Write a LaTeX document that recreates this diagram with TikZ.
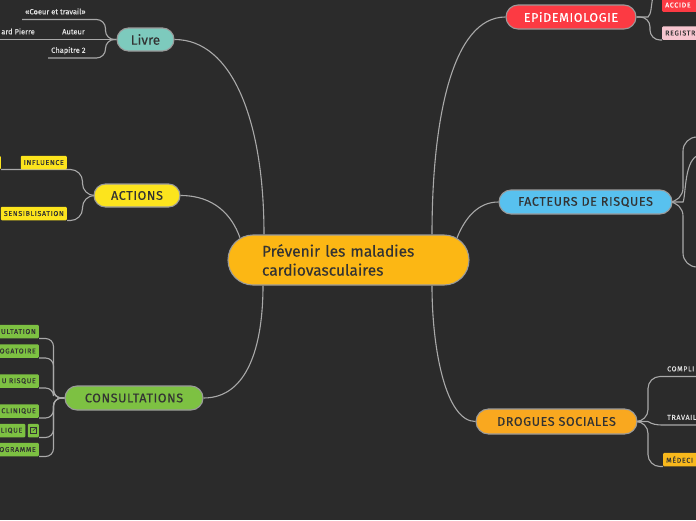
\documentclass[tikz,border=0pt]{standalone}
\usepackage{fontspec}
\setmainfont{Fira Sans}
\newfontfamily\capsf[LetterSpace=5,FakeBold=0.35]{Fira Sans}
\newfontfamily\cenf[FakeBold=0.3]{Fira Sans}
\newfontfamily\tinyf[LetterSpace=10,FakeBold=0.3]{Fira Sans}
\newfontfamily\lblf[FakeBold=0.2]{Fira Sans}
\usetikzlibrary{calc}
\definecolor{bg}{HTML}{2B2B2B}
\definecolor{lineg}{HTML}{A9A9A9}
\definecolor{bordg}{HTML}{9A9A9A}
\definecolor{dark}{HTML}{333333}
\definecolor{lightt}{HTML}{E2E2E2}
\definecolor{cCenter}{HTML}{FCB714}
\definecolor{cLivre}{HTML}{7DCABD}
\definecolor{cAct}{HTML}{FCE41D}
\definecolor{cCons}{HTML}{7DC142}
\definecolor{cEpi}{HTML}{FC3A43}
\definecolor{cFact}{HTML}{58C1EF}
\definecolor{cDrog}{HTML}{F9A81F}
\definecolor{cPink}{HTML}{F7C5CF}
\definecolor{cMed}{HTML}{F8B81C}
\pgfdeclarelayer{back}
\pgfsetlayers{back,main}
\tikzset{
  topic/.style={draw=bordg, line width=1.1pt, text=dark, inner sep=0pt,
    font=\capsf\fontsize{12.5}{14}\selectfont},
  conn/.style={draw=lineg, line width=1.1pt},
  lbl/.style={text=lightt, inner xsep=3pt, inner ysep=5pt, text depth=0pt,
    font=\lblf\fontsize{7.5}{8}\selectfont},
  clbl/.style={text=lightt, inner xsep=3pt, inner ysep=5pt, text depth=0pt,
    font=\tinyf\fontsize{7}{8}\selectfont},
  cbox/.style={text=dark, inner xsep=3pt, inner ysep=0pt, minimum height=13.5pt,
    rounded corners=1pt, font=\tinyf\fontsize{7}{8}\selectfont},
  ebox/.style={cbox, text width=34pt, align=left}
}
\begin{document}
\begin{tikzpicture}[x=1pt,y=-1pt]
\begin{pgfonlayer}{back}
\fill[bg] (0,0) rectangle (696,520);
\end{pgfonlayer}
\useasboundingbox (0,0) rectangle (696,520);

% central node
\node[topic, fill=cCenter, minimum width=241pt, minimum height=50pt, rounded corners=25pt,
  text width=173pt, inner xsep=34pt, align=left, font=\cenf\fontsize{15.5}{19}\selectfont]
  (c) at (348.5,260) {Prévenir les maladies\\cardiovasculaires};

% main topics
\node[topic, fill=cLivre, minimum width=57pt, minimum height=23pt, rounded corners=11.5pt,
  font=\cenf\fontsize{13.5}{14}\selectfont] (livre) at (145.5,39.5) {Livre};
\node[topic, fill=cAct, minimum width=86pt, minimum height=23pt, rounded corners=11.5pt]
  (act) at (137,195.5) {ACTIONS};
\node[topic, fill=cCons, minimum width=138pt, minimum height=24pt, rounded corners=12pt]
  (cons) at (134,398) {CONSULTATIONS};
\node[topic, fill=cEpi, text=white, minimum width=130pt, minimum height=24pt, rounded corners=12pt]
  (epi) at (571,17) {EPiDEMIOLOGIE};
\node[topic, fill=cFact, minimum width=173pt, minimum height=24pt, rounded corners=12pt]
  (fact) at (585.5,202) {FACTEURS DE RISQUES};
\node[topic, fill=cDrog, minimum width=161pt, minimum height=25pt, rounded corners=12.5pt]
  (drog) at (556.5,421.5) {DROGUES SOCIALES};

% Livre children
\node[lbl, anchor=south west] (coeur) at (22,19.5) {«Coeur et travail»};
\node[lbl, anchor=south west] (aut) at (59,39.5) {Auteur};
\node[lbl, anchor=south east] (pierre) at (38,39.5) {ard Pierre};
\node[lbl, anchor=south west] (chap) at (48,58) {Chapitre 2};

% ACTIONS children
\node[cbox, fill=cAct, anchor=south east] (infl) at (67,169.5) {INFLUENCE};
\node[cbox, fill=cAct, anchor=south east, minimum width=12pt] (infl2) at (1,169.5) {};
\node[cbox, fill=cAct, anchor=south east] (sens) at (67,220.5) {SENSIBLISATION};

% CONSULTATIONS children
\node[cbox, fill=cCons, anchor=south east] (k1) at (39,338.5) {ULTATION};
\node[cbox, fill=cCons, anchor=south east] (k2) at (39,358) {OGATOIRE};
\node[cbox, fill=cCons, anchor=south east] (k3) at (39,388) {U RISQUE};
\node[cbox, fill=cCons, anchor=south east] (k4) at (39,418) {CLINIQUE};
\node[cbox, fill=cCons, anchor=south east] (k5) at (25.5,437.5) {LIQUE};
\node[cbox, fill=cCons, anchor=south east, minimum width=11pt, inner xsep=0pt] (ic) at (39,437.5) {};
\node[cbox, fill=cCons, anchor=south east] (k6) at (39,456.5) {OGRAMME};
\draw[dark, line width=0.55pt] ($(ic.center)+(0.5,-2.8)$) -- ($(ic.center)+(-2.8,-2.8)$) -- ($(ic.center)+(-2.8,2.8)$) -- ($(ic.center)+(2.8,2.8)$) -- ($(ic.center)+(2.8,-0.5)$);
\draw[dark, line width=0.55pt] ($(ic.center)+(-0.5,0.5)$) -- ($(ic.center)+(2.8,-2.8)$);
\draw[dark, line width=0.55pt] ($(ic.center)+(1,-2.8)$) -- ($(ic.center)+(2.8,-2.8)$) -- ($(ic.center)+(2.8,-1)$);

% EPIDEMIOLOGIE children
\node[ebox, fill=cEpi, text=white, anchor=south west] (acc) at (662,12) {ACCIDE};
\node[ebox, fill=cPink, anchor=south west] (reg) at (662,40) {REGISTR};

% DROGUES children
\node[clbl, anchor=south west] (comp) at (664,376.5) {COMPLI};
\node[clbl, anchor=south west] (trav) at (664,425) {TRAVAIL};
\node[ebox, fill=cMed, anchor=south west] (med) at (663,466.5) {MÉDECI};

% free ends
\coordinate (epUp) at (653,-4);
\coordinate (f1) at (700,137);
\coordinate (f2) at (700,155);
\coordinate (f3) at (700,267);
\coordinate (pEnd) at (-2,39.5);
\coordinate (cEnd) at (700,376.5);
\coordinate (tEnd) at (700,425);

\begin{pgfonlayer}{back}
% central connectors
\draw[conn] (livre.east) .. controls (232,39.5) and (264,120) .. ([xshift=-84.5pt]c.north);
\draw[conn] (act.east) .. controls (214,195.5) and (232,215) .. ($(c.north west)+(12.5,3.3)$);
\draw[conn] (cons.east) .. controls (248,398) and (263,345) .. ([xshift=-85.5pt]c.south);
\draw[conn] (epi.west) .. controls (452,17) and (432,120) .. ([xshift=83.5pt]c.north);
\draw[conn] (fact.west) .. controls (478,202) and (465,218) .. ($(c.north east)+(-12.5,3.3)$);
\draw[conn] (drog.west) .. controls (446,421.5) and (432,350) .. ([xshift=83.5pt]c.south);

% Livre
\draw[conn, rounded corners=9pt] (livre.west) -- (105.5,39.5) |- (coeur.south west);
\draw[conn, rounded corners=9pt] (livre.west) -- (105.5,39.5) |- (chap.south west);
\draw[conn] (livre.west) -- (aut.south west) -- (pierre.south east) -- (pEnd);

% ACTIONS
\draw[conn, rounded corners=12pt] (act.west) -- (82.5,195.5) |- (infl2.south east);
\draw[conn, rounded corners=12pt] (act.west) -- (82.5,195.5) |- (sens.south east);

% CONSULTATIONS
\foreach \k in {k1,k2,k3,k4,ic,k6}
  \draw[conn, rounded corners=8pt] (cons.west) -- (53.5,398) |- (\k.south east);

% EPIDEMIOLOGIE
\draw[conn] (epi.east) -- (648,17) .. controls (651.5,14) and (651,6) .. (epUp);
\draw[conn, rounded corners=10pt] (epi.east) -- (650,17) |- (reg.south west);

% FACTEURS
\draw[conn, rounded corners=14pt] (fact.east) -- (683,202) |- (f1);
\draw[conn] (fact.east) -- (683,202) .. controls (686,196) and (684,157) .. (f2);
\draw[conn, rounded corners=14pt] (fact.east) -- (683,202) |- (f3);

% DROGUES
\draw[conn, rounded corners=12pt] (drog.east) -- (648,421.5) |- (cEnd);
\draw[conn] (drog.east) -- (648,421.5) .. controls (652,424) and (655,425) .. (trav.south west) -- (tEnd);
\draw[conn, rounded corners=12pt] (drog.east) -- (648,421.5) |- (med.south west);
\end{pgfonlayer}
\end{tikzpicture}
\end{document}
